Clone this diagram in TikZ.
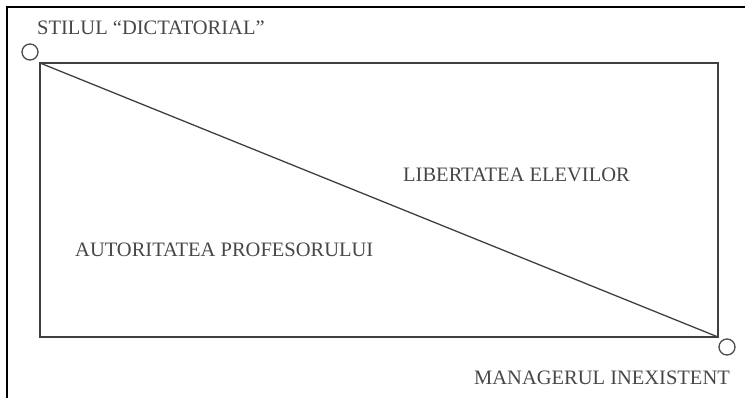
\documentclass[tikz,border=0pt]{standalone}
\usepackage{fontspec}
\setmainfont{Liberation Serif}
\begin{document}
\begin{tikzpicture}[x=1pt,y=-1pt,
  lbl/.style={text=black!72, font=\fontsize{20.5}{21}\selectfont, inner sep=0pt, anchor=west},
  frame/.style={draw=black, line width=2.5pt},
  box/.style={draw=black!75, line width=1.6pt},
  endpt/.style={circle, draw=black!70, line width=1.3pt, minimum size=16pt, inner sep=0pt, fill=white}]
\useasboundingbox (0,0) rectangle (745,398);
\clip (0,0) rectangle (745,398);
\draw[frame] (7,420) -- (7,7) -- (760,7);
\coordinate (tl) at (40,63);
\coordinate (br) at (718,337);
\draw[box] (tl) rectangle (br);
\draw[box, line width=1.3pt] (tl) -- (br);
\node[endpt] (c1) at (30,52) {};
\node[endpt] (c2) at (727,347) {};
\node[lbl] (t1) at (37,28) {STILUL “DICTATORIAL”};
\node[lbl] (t2) at (474,378) {MANAGERUL INEXISTENT};
\node[lbl] (t3) at (403,175) {LIBERTATEA ELEVILOR};
\node[lbl] (t4) at (75,250) {AUTORITATEA PROFESORULUI};
\end{tikzpicture}
\end{document}
